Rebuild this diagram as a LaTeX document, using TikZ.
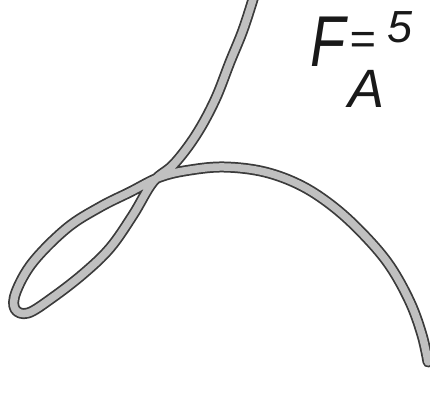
\documentclass[tikz,border=0pt]{standalone}
\usepackage{fontspec}
\setmainfont{Liberation Sans}
\usetikzlibrary{calc}
\definecolor{strokegray}{RGB}{192,192,192}
\definecolor{inkblack}{RGB}{25,25,25}

\begin{document}
\begin{tikzpicture}[x=1pt,y=-1pt,
  rope/.style={line cap=round,line join=round},
  hand/.style={inkblack,font=\itshape,inner sep=0pt}]
  \useasboundingbox (0,0) rectangle (430,408);
  % the loop curve, outline first then the gray core
  \def\looppath{plot[smooth,tension=0.6] coordinates {
    (254,-4) (243,30) (230,62) (215,100) (196,135) (174,164) (153,182)
    (133,215) (110,248) (83,274) (52,298) (28,313) (15,309) (16,292)
    (33,262) (67,228) (100,207) (130,192) (160,177) (190,170) (225,167)
    (265,172) (302,186) (335,208) (365,236) (390,266) (410,302)
    (422,335) (428,362)}}
  \draw[rope,inkblack!85,line width=11pt] \looppath;
  \draw[rope,strokegray,line width=7.5pt] \looppath;
  % handwritten labels
  \node[hand,anchor=base west] (force) at (310,66)
    {\fontsize{72}{72}\selectfont\scalebox{0.8}[1]{F}\hspace{4pt}%
     \fontsize{45}{45}\selectfont\raisebox{12pt}{=}\hspace{12pt}\raisebox{24pt}{5}};
  \node[hand,anchor=south west] (area) at (348,108)
    {\fontsize{54}{54}\selectfont A};
\end{tikzpicture}
\end{document}
